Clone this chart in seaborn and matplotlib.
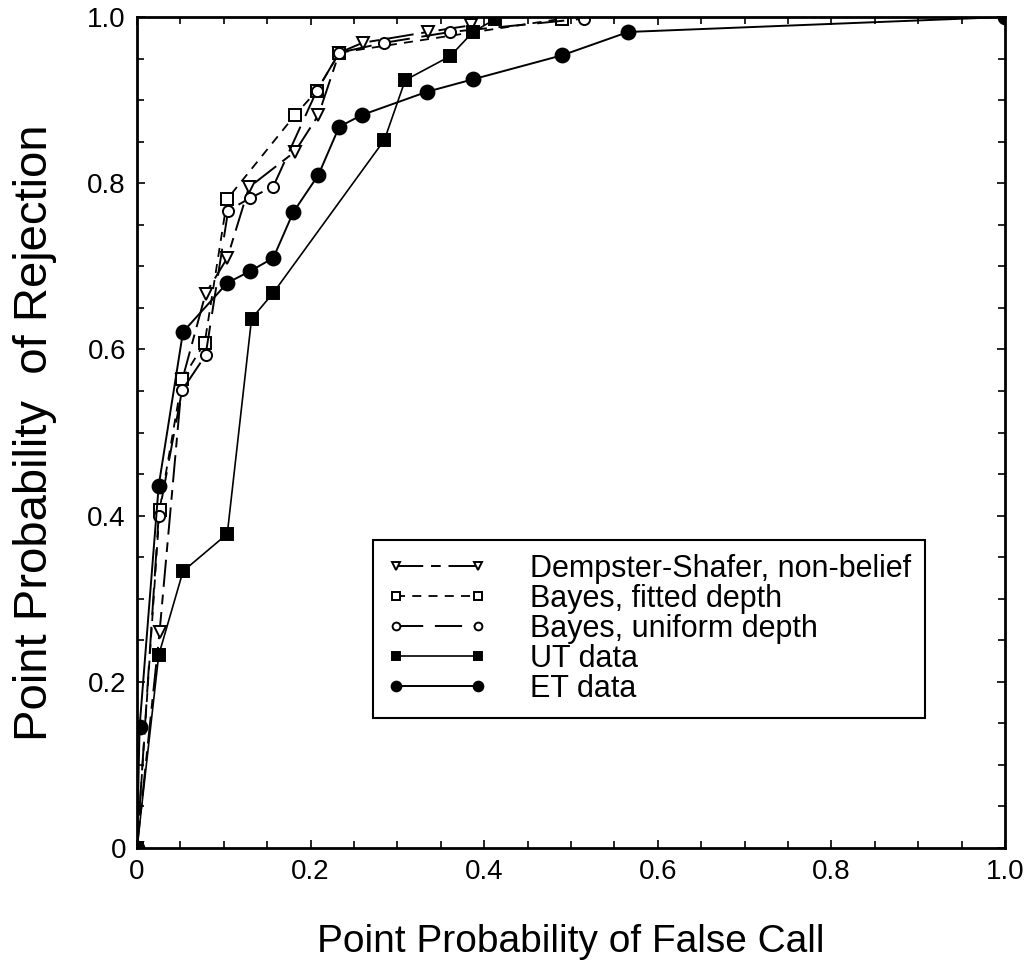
import matplotlib
matplotlib.use("Agg")
import matplotlib.pyplot as plt
import numpy as np
import pandas as pd
import seaborn as sns
from matplotlib.ticker import MultipleLocator, FixedFormatter, FixedLocator

sns.set_style("ticks")
plt.rcParams["font.family"] = ["Liberation Sans", "DejaVu Sans"]
plt.rcParams["text.color"] = "black"
plt.rcParams["axes.labelcolor"] = "black"
plt.rcParams["xtick.color"] = "black"
plt.rcParams["ytick.color"] = "black"

# ROC-style curves: false-call probability vs. rejection probability
ds_x = [0, 0.026, 0.052, 0.079, 0.104, 0.129, 0.182, 0.209, 0.233, 0.260, 0.335, 0.385]
ds_y = [0, 0.260, 0.563, 0.667, 0.710, 0.795, 0.838, 0.882, 0.957, 0.969, 0.982, 0.990]

fit_x = [0, 0.026, 0.052, 0.078, 0.104, 0.182, 0.207, 0.233, 0.490]
fit_y = [0, 0.407, 0.564, 0.608, 0.781, 0.882, 0.911, 0.957, 0.998]

uni_x = [0, 0.025, 0.052, 0.079, 0.105, 0.130, 0.157, 0.207, 0.233, 0.285, 0.361, 0.515]
uni_y = [0, 0.400, 0.551, 0.593, 0.767, 0.782, 0.796, 0.911, 0.957, 0.969, 0.982, 0.998]

ut_x = [0, 0.025, 0.053, 0.104, 0.132, 0.157, 0.285, 0.309, 0.361, 0.387, 0.412]
ut_y = [0, 0.232, 0.333, 0.378, 0.637, 0.668, 0.852, 0.924, 0.953, 0.982, 0.997]

et_x = [0, 0.003, 0.025, 0.053, 0.104, 0.130, 0.157, 0.180, 0.209, 0.233, 0.259,
        0.334, 0.387, 0.490, 0.566, 1.0]
et_y = [0, 0.146, 0.436, 0.621, 0.680, 0.694, 0.710, 0.765, 0.810, 0.868, 0.882,
        0.910, 0.925, 0.954, 0.982, 1.0]

series_names = ["Dempster-Shafer, non-belief", "Bayes, fitted depth",
                "Bayes, uniform depth", "UT data", "ET data"]

fig = plt.figure(figsize=(10.28, 9.61), dpi=100)
ax = fig.add_axes([137 / 1028, 1 - 848 / 961, (1005 - 137) / 1028, (848 - 17) / 961])

styles = [
    dict(x=ds_x, y=ds_y, marker="v", mfc="white", ms=8, ls=(0, (14, 4, 5, 4)), lw=1.4),
    dict(x=fit_x, y=fit_y, marker="s", mfc="white", ms=8, ls=(0, (5, 4)), lw=1.3),
    dict(x=uni_x, y=uni_y, marker="o", mfc="white", ms=8, ls=(0, (14, 6)), lw=1.4),
    dict(x=ut_x, y=ut_y, marker="s", mfc="black", ms=9, ls="-", lw=1.2),
    dict(x=et_x, y=et_y, marker="o", mfc="black", ms=10, ls="-", lw=1.4),
]

for name, st in zip(series_names, styles):
    df = pd.DataFrame({"x": st["x"], "y": st["y"]})
    sns.lineplot(data=df, x="x", y="y", ax=ax, sort=False, estimator=None,
                 color="black", marker=st["marker"], markersize=st["ms"],
                 markerfacecolor=st["mfc"], markeredgecolor="black",
                 markeredgewidth=1.4, linestyle=st["ls"], linewidth=st["lw"],
                 label=name)

ax.set_xlim(0, 1.0)
ax.set_ylim(0, 1.0)
ax.xaxis.set_major_locator(FixedLocator([0, 0.2, 0.4, 0.6, 0.8, 1.0]))
ax.xaxis.set_major_formatter(FixedFormatter(["0", "0.2", "0.4", "0.6", "0.8", "1.0"]))
ax.yaxis.set_major_locator(FixedLocator([0, 0.2, 0.4, 0.6, 0.8, 1.0]))
ax.yaxis.set_major_formatter(FixedFormatter(["0", "0.2", "0.4", "0.6", "0.8", "1.0"]))
ax.xaxis.set_minor_locator(MultipleLocator(0.05))
ax.yaxis.set_minor_locator(MultipleLocator(0.05))
ax.tick_params(which="both", direction="in", top=True, right=True, width=1.2)
ax.tick_params(which="major", length=6, labelsize=20, pad=8)
ax.tick_params(which="minor", length=5)
for sp in ax.spines.values():
    sp.set_linewidth(2.0)
    sp.set_visible(True)
    sp.set_color("black")

ax.set_xlabel("Point Probability of False Call", fontsize=28, labelpad=28)
ax.set_ylabel("Point Probability  of Rejection", fontsize=34, labelpad=22)

leg = ax.legend(loc="upper left", bbox_to_anchor=((373 - 137) / 868, (848 - 540) / 831),
                borderaxespad=0, frameon=True, fancybox=False, edgecolor="black",
                fontsize=22, numpoints=2, handlelength=3.3, handletextpad=1.4,
                labelspacing=0.0, borderpad=0.45, markerscale=0.7)
leg.get_frame().set_linewidth(1.5)
leg.get_frame().set_alpha(1)

fig.savefig("out.png", dpi=100)
